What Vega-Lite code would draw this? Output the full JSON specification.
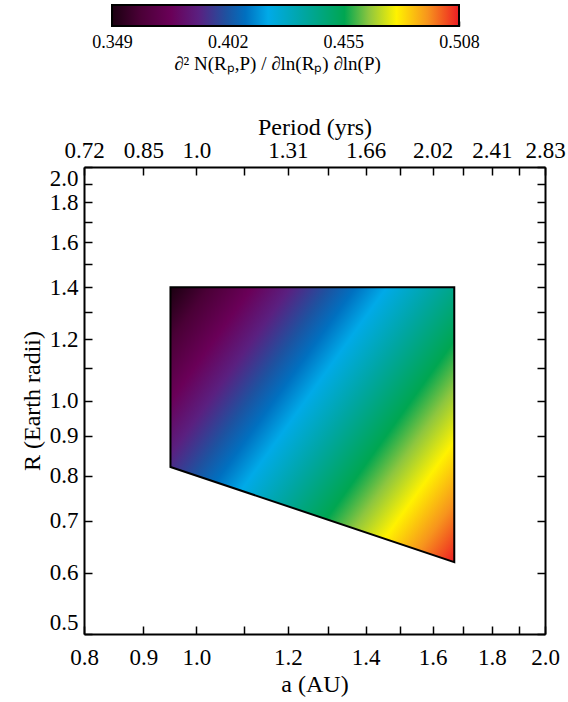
{
  "$schema": "https://vega.github.io/schema/vega-lite/v6.json",
  "padding": {"left": 20, "top": 4, "right": 5, "bottom": 5},
  "spacing": 42,
  "config": {
    "font": "Liberation Serif",
    "view": {"stroke": null},
    "axis": {
      "grid": false,
      "domainColor": "black",
      "domainWidth": 2,
      "tickColor": "black",
      "tickWidth": 1.5,
      "tickSize": -8,
      "labelColor": "black",
      "titleColor": "black",
      "labelFont": "Liberation Serif",
      "titleFont": "Liberation Serif",
      "labelFontSize": 23,
      "titleFontSize": 24,
      "titleFontWeight": "normal",
      "labelOverlap": false
    }
  },
  "datasets": {
    "region": [
      {"a": 0.95, "Rlo": 0.821, "Rhi": 1.4},
      {"a": 1.67, "Rlo": 0.619, "Rhi": 1.4}
    ],
    "bar": [{"lo": 0.349, "hi": 0.508, "b0": 0, "b1": 1}]
  },
  "vconcat": [
    {
      "width": 461,
      "height": 21,
      "data": {"name": "bar"},
      "layer": [
        {
          "mark": {
            "type": "rect",
            "stroke": "black",
            "strokeWidth": 2,
            "fill": {
              "gradient": "linear", "x1": 0, "y1": 0, "x2": 1, "y2": 0,
              "stops": [
                {"offset": 0, "color": "#1a0010"},
                {"offset": 0.08, "color": "#4a0036"},
                {"offset": 0.17, "color": "#6a0058"},
                {"offset": 0.25, "color": "#5a2080"},
                {"offset": 0.33, "color": "#1e52a0"},
                {"offset": 0.385, "color": "#0070c0"},
                {"offset": 0.45, "color": "#00aae8"},
                {"offset": 0.55, "color": "#00a6a4"},
                {"offset": 0.67, "color": "#00a651"},
                {"offset": 0.74, "color": "#8dc63f"},
                {"offset": 0.82, "color": "#fff200"},
                {"offset": 0.91, "color": "#f7941d"},
                {"offset": 1, "color": "#ed1c24"}
              ]
            }
          },
          "encoding": {
            "x": {
              "field": "lo", "type": "quantitative",
              "scale": {"domain": [0.33617, 0.547406], "zero": false, "nice": false},
              "axis": {
                "orient": "bottom", "values": [0.349, 0.402, 0.455, 0.508], "format": ".3f",
                "domain": false, "tickSize": -5, "labelFontSize": 18, "labelPadding": 12,
                "labelFlush": false,
                "title": "∂² N(Rₚ,P) / ∂ln(Rₚ) ∂ln(P)", "titleFontSize": 19, "titlePadding": 3,
                "titleX": 193
              }
            },
            "x2": {"field": "hi"},
            "y": {"field": "b0", "type": "quantitative", "scale": {"domain": [0, 1], "nice": false}, "axis": null},
            "y2": {"field": "b1"}
          }
        },
        {
          "mark": {"type": "rect", "opacity": 0},
          "encoding": {
            "x": {
              "field": "lo", "type": "quantitative",
              "axis": {
                "orient": "top", "values": [0.402, 0.455], "labels": false,
                "domain": false, "tickSize": -5, "title": null
              }
            },
            "x2": {"field": "hi"},
            "y": {"field": "b0", "type": "quantitative", "axis": null},
            "y2": {"field": "b1"}
          }
        }
      ],
      "resolve": {"axis": {"x": "independent"}}
    },
    {
      "width": 461,
      "height": 467,
      "data": {"name": "region"},
      "layer": [
        {
          "mark": {
            "type": "area",
            "stroke": "black",
            "strokeWidth": 2,
            "fillOpacity": 1,
            "fill": {
              "gradient": "linear", "x1": 0, "y1": 0, "x2": 1.143, "y2": 0.794,
              "stops": [
                {"offset": 0, "color": "#1a0010"},
                {"offset": 0.08, "color": "#4a0036"},
                {"offset": 0.17, "color": "#6a0058"},
                {"offset": 0.25, "color": "#5a2080"},
                {"offset": 0.33, "color": "#1e52a0"},
                {"offset": 0.385, "color": "#0070c0"},
                {"offset": 0.45, "color": "#00aae8"},
                {"offset": 0.55, "color": "#00a6a4"},
                {"offset": 0.67, "color": "#00a651"},
                {"offset": 0.74, "color": "#8dc63f"},
                {"offset": 0.82, "color": "#fff200"},
                {"offset": 0.91, "color": "#f7941d"},
                {"offset": 1, "color": "#ed1c24"}
              ]
            }
          },
          "encoding": {
            "x": {
              "field": "a", "type": "quantitative",
              "scale": {"type": "log", "domain": [0.8, 2.0], "nice": false, "zero": false},
              "axis": {
                "orient": "bottom",
                "values": [0.8, 0.9, 1.0, 1.1, 1.2, 1.3, 1.4, 1.5, 1.6, 1.7, 1.8, 1.9, 2.0],
                "labelExpr": "indexof([1.1, 1.3, 1.5, 1.7, 1.9], datum.value) >= 0 ? '' : format(datum.value, '.1f')",
                "labelFlush": false, "labelPadding": 20,
                "title": "a (AU)", "titlePadding": 3
              }
            },
            "y": {
              "field": "Rlo", "type": "quantitative",
              "scale": {"type": "log", "domain": [0.5, 2.0], "nice": false, "zero": false},
              "axis": {
                "orient": "left",
                "values": [0.5, 0.6, 0.7, 0.8, 0.9, 1.0, 1.1, 1.2, 1.3, 1.4, 1.5, 1.6, 1.7, 1.8, 1.9, 2.0],
                "labelExpr": "indexof([1.1, 1.3, 1.5, 1.7, 1.9], datum.value) >= 0 ? '' : format(datum.value, '.1f')",
                "labelFlush": true, "labelPadding": 14,
                "title": "R (Earth radii)", "titlePadding": 5
              }
            },
            "y2": {"field": "Rhi"}
          }
        },
        {
          "mark": {"type": "point", "opacity": 0},
          "encoding": {
            "x": {
              "field": "a", "type": "quantitative",
              "axis": {
                "orient": "top",
                "values": [0.8, 0.9, 1.0, 1.1, 1.2, 1.3, 1.4, 1.5, 1.6, 1.7, 1.8, 1.9, 2.0],
                "labelExpr": "datum.value == 0.8 ? '0.72' : datum.value == 0.9 ? '0.85' : datum.value == 1 ? '1.0' : datum.value == 1.2 ? '1.31' : datum.value == 1.4 ? '1.66' : datum.value == 1.6 ? '2.02' : datum.value == 1.8 ? '2.41' : datum.value == 2 ? '2.83' : ''",
                "labelFlush": false, "labelPadding": 13,
                "title": "Period (yrs)", "titlePadding": 0
              }
            },
            "y": {
              "field": "Rhi", "type": "quantitative",
              "axis": {
                "orient": "right",
                "values": [0.5, 0.6, 0.7, 0.8, 0.9, 1.0, 1.1, 1.2, 1.3, 1.4, 1.5, 1.6, 1.7, 1.8, 1.9, 2.0],
                "labels": false, "title": null
              }
            }
          }
        }
      ],
      "resolve": {"axis": {"x": "independent", "y": "independent"}}
    }
  ]
}
